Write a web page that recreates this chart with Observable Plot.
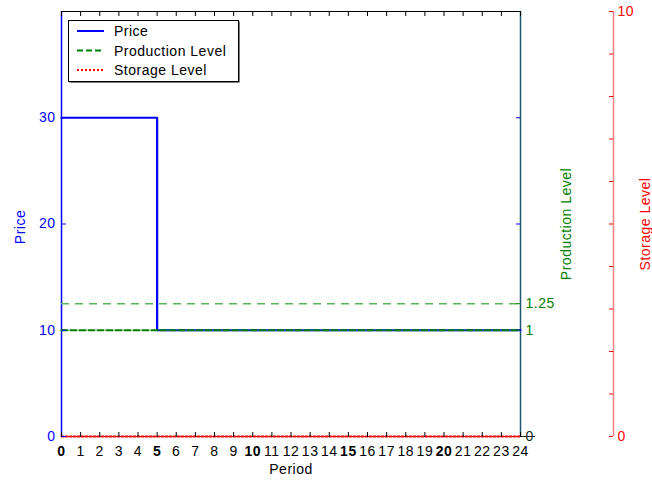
<!DOCTYPE html>
<html>
<head>
<meta charset="utf-8">
<script src="https://cdn.jsdelivr.net/npm/d3@7"></script>
<script src="https://cdn.jsdelivr.net/npm/@observablehq/plot@0.6"></script>
<style>
  body { margin: 0; background: #fff; }
  #chart { width: 652px; height: 480px; }
</style>
</head>
<body>
<div id="chart"></div>
<script>
// Periods of the planning horizon
const periods = [0, 1, 2, 3, 4, 5, 6, 7, 8, 9, 10, 11, 12, 13, 14, 15, 16, 17, 18, 19, 20, 21, 22, 23, 24];
// Price per period
const price = [30, 30, 30, 30, 30, 10, 10, 10, 10, 10, 10, 10, 10, 10, 10, 10, 10, 10, 10, 10, 10, 10, 10, 10, 10];
// Production level per period
const production = [1, 1, 1, 1, 1, 1, 1, 1, 1, 1, 1, 1, 1, 1, 1, 1, 1, 1, 1, 1, 1, 1, 1, 1, 1];
// Storage level per period
const storage = [0, 0, 0, 0, 0, 0, 0, 0, 0, 0, 0, 0, 0, 0, 0, 0, 0, 0, 0, 0, 0, 0, 0, 0, 0];
// Production capacity
const capacity = 1.25;

// Axis ranges and ticks
const priceMax = 40;
const productionMax = 4;
const storageMax = 10;
const majorPeriods = [0, 5, 10, 15, 20];
const priceTicks = [0, 10, 20, 30];
const productionTicks = [1, 1.25];
const storageTicks = [0, 1, 2, 3, 4, 5, 6, 7, 8, 9, 10];
const storageLabels = [0, 10];

// Legend entries
const legendLabels = ["Price", "Production Level", "Storage Level"];

// Secondary axes share the price scale
const prodToPrice = v => v * priceMax / productionMax;
const priceToProd = v => v * productionMax / priceMax;
const storToPrice = v => v * priceMax / storageMax;
const priceToStor = v => v * storageMax / priceMax;

const rows = periods.map((p, i) => ({period: p, price: price[i], production: production[i], storage: storage[i]}));

const W = 652, H = 480;
const mL = 61, mR = 132, mT = 11, mB = 44;
const frameW = W - mL - mR;
const frameH = H - mT - mB;
const storageOffset = 93;
const lastPeriod = periods[periods.length - 1];

const BLUE = "#0000ff", GREEN = "#008000", RED = "#ff0000";
const FONT = "'Liberation Sans', Arial, Helvetica, sans-serif";

const title = (label, options) =>
  Plot.text([label], {text: d => d, textAnchor: "middle", lineAnchor: "middle", ...options});

const chart = Plot.plot({
  width: W,
  height: H,
  marginLeft: mL,
  marginRight: mR,
  marginTop: mT,
  marginBottom: mB,
  style: {fontFamily: FONT, fontSize: "14px", letterSpacing: "0.5px", background: "white", overflow: "visible"},
  x: {domain: [periods[0], lastPeriod], axis: null},
  y: {domain: [0, priceMax], axis: null},
  marks: [
    // frame
    Plot.ruleY([0], {stroke: "black"}),
    Plot.ruleY([priceMax], {stroke: "black"}),
    Plot.ruleX([periods[0]], {stroke: BLUE, strokeWidth: 1.5}),
    Plot.ruleX([lastPeriod], {stroke: "#1f5570", strokeWidth: 1.5}),

    // capacity reference
    Plot.ruleY([prodToPrice(capacity)], {stroke: "#5cb35c", strokeWidth: 1.5, strokeDasharray: "8,6"}),

    // series
    Plot.line(rows, {x: "period", y: "price", curve: "step-after", stroke: BLUE, strokeWidth: 2.2}),
    Plot.line(rows, {x: "period", y: d => prodToPrice(d.production), stroke: GREEN, strokeWidth: 2.2, strokeDasharray: "6,3"}),
    Plot.line(rows, {x: "period", y: d => storToPrice(d.storage), stroke: RED, strokeWidth: 2, strokeDasharray: "2,2"}),

    // period ticks, inward on bottom and top
    Plot.axisX(periods, {anchor: "top", dy: frameH, tickSize: 5, stroke: "black", fill: "none", label: null}),
    Plot.axisX(periods, {anchor: "bottom", dy: -frameH, tickSize: 5, stroke: "black", fill: "none", label: null}),
    // period labels
    Plot.axisX(periods.filter(p => !majorPeriods.includes(p)), {anchor: "bottom", tickSize: 0, tickPadding: 10, fill: "black", label: null}),
    Plot.axisX(majorPeriods, {anchor: "bottom", tickSize: 0, tickPadding: 10, fill: "black", fontWeight: "bold", label: null}),

    // price axis
    Plot.axisY(priceTicks, {anchor: "right", dx: -frameW, tickSize: 4, stroke: BLUE, fill: "none", label: null}),
    Plot.axisY(priceTicks.slice(1), {anchor: "left", dx: frameW, tickSize: 4, stroke: BLUE, fill: "none", label: null}),
    Plot.axisY(priceTicks, {anchor: "left", tickSize: 0, tickPadding: 6, fill: BLUE, label: null}),

    // production axis
    Plot.axisY(productionTicks.map(prodToPrice), {anchor: "left", dx: frameW, tickSize: 4, stroke: GREEN, fill: "none", label: null}),
    Plot.axisY(productionTicks.map(prodToPrice), {anchor: "right", tickSize: 0, tickPadding: 5, fill: GREEN, label: null, tickFormat: d => String(priceToProd(d))}),
    Plot.axisY([0], {anchor: "right", tickSize: 14, stroke: "#1c2a1c", fill: "none", label: null}),
    Plot.axisY([0], {anchor: "right", tickSize: 0, tickPadding: 5, fill: "#1c2a1c", label: null, tickFormat: d => String(priceToProd(d))}),

    // storage axis
    Plot.ruleX([lastPeriod], {dx: storageOffset, stroke: "#ff8080", strokeWidth: 1.5}),
    Plot.axisY(storageTicks.map(storToPrice), {anchor: "left", dx: frameW + storageOffset, tickSize: 4, stroke: RED, fill: "none", label: null}),
    Plot.axisY(storageLabels.map(storToPrice), {anchor: "right", dx: storageOffset, tickSize: 0, tickPadding: 4, fill: RED, label: null, tickFormat: d => String(priceToStor(d))}),

    // axis titles
    title("Price", {frameAnchor: "left", dx: -41, dy: 3, rotate: -90, fill: BLUE}),
    title("Production Level", {frameAnchor: "right", dx: 46, rotate: -90, fill: GREEN}),
    title("Storage Level", {frameAnchor: "right", dx: 125, rotate: -90, fill: RED}),
    title("Period", {frameAnchor: "bottom", dy: 33, fill: "black"})
  ]
});

// legend box in the upper-left corner of the frame
const svg = d3.select(chart);
const legend = svg.append("g")
  .attr("font-family", FONT)
  .attr("font-size", 14)
  .attr("text-anchor", "start");
const lx = 68.5, ly = 20.5, lw = 170, lh = 61;
legend.append("rect").attr("x", lx + 1).attr("y", ly + 1).attr("width", lw).attr("height", lh).attr("fill", "black");
legend.append("rect").attr("x", lx).attr("y", ly).attr("width", lw).attr("height", lh).attr("fill", "white").attr("stroke", "black");
const styles = [
  {stroke: BLUE, dash: null},
  {stroke: GREEN, dash: "6,3"},
  {stroke: RED, dash: "2,2"}
];
legendLabels.forEach((label, i) => {
  const y = 31 + i * 19.5;
  legend.append("line").attr("x1", 77).attr("x2", 104).attr("y1", y).attr("y2", y)
    .attr("stroke", styles[i].stroke).attr("stroke-width", 2)
    .attr("stroke-dasharray", styles[i].dash);
  legend.append("text").attr("x", 114).attr("y", y + 5).attr("fill", "black").text(label);
});

document.getElementById("chart").appendChild(chart);
</script>
</body>
</html>
